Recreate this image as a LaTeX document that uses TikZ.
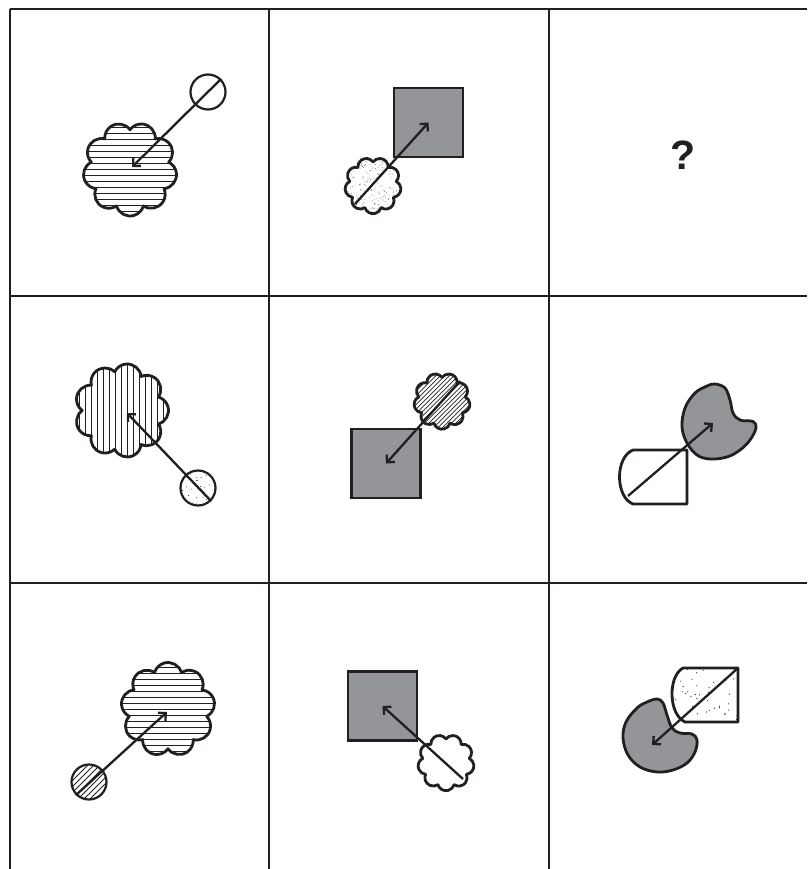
\documentclass[tikz,border=0pt]{standalone}
\usepackage{fontspec}
\setmainfont{Liberation Sans}
\usetikzlibrary{arrows.meta}
\definecolor{ink}{HTML}{231F20}
\definecolor{shade}{HTML}{939598}
% #1 path options, #2 cx, #3 cy, #4 scale, #5 rotation
\newcommand\flowerpath[5]{%
  \path[#1, shift={(#2,#3)}, yscale=-1, rotate=#5, scale=#4]
    (50:39.29)
    \foreach \k [evaluate=\k as \fsa using 70+40*\k-73.7,
                 evaluate=\k as \fea using 70+40*\k+73.7] in {0,...,8}
      { arc[start angle=\fsa, end angle=\fea, radius=14] } -- cycle;}
\begin{document}
\begin{tikzpicture}[x=1pt,y=-1pt,
  grid/.style={draw=ink, line width=2pt},
  outl/.style={draw=ink, line width=2.8pt, line join=round},
  hatch/.style={draw=ink, line width=0.8pt},
  arr/.style={draw=ink, line width=2.3pt, -{Straight Barb[length=5.5pt,width=11pt]}},
  sqr/.style={draw=ink, fill=shade, line width=2.8pt, inner sep=0pt, minimum size=69pt},
  circ/.style={circle, draw=ink, line width=2.2pt, inner sep=0pt, minimum size=35pt, fill=white},
  grey/.style={draw=ink, fill=shade, line width=2.8pt, line join=round}]
\pgfmathsetseed{42}
\useasboundingbox (0,0) rectangle (807,869);
\fill[white] (0,0) rectangle (807,869);
% grid
\draw[grid] (10,9) -- (807,9);
\draw[grid] (10,296) -- (807,296);
\draw[grid] (10,583) -- (807,583);
\draw[grid] (10,9) -- (10,869);
\draw[grid] (269,9) -- (269,869);
\draw[grid] (549,9) -- (549,869);

% ---- cell 1,1
\flowerpath{fill=white}{130}{169}{1}{0}
\begin{scope}
  \flowerpath{clip}{130}{169}{1}{0}
  \foreach \k in {-8,...,8} \draw[hatch] (75,169+\k*6) -- (185,169+\k*6);
\end{scope}
\flowerpath{outl}{130}{169}{1}{0}
\coordinate (f11) at (132,167);
\node[circ] (c11) at (208,92) {};
\draw[arr] (c11.north east) -- (f11);

% ---- cell 2,1
\flowerpath{fill=white}{121.5}{410.5}{1}{-90}
\begin{scope}
  \flowerpath{clip}{121.5}{410.5}{1}{-90}
  \foreach \k in {-8,...,8} \draw[hatch] (121.5+\k*6,355) -- (121.5+\k*6,465);
\end{scope}
\flowerpath{outl}{121.5}{410.5}{1}{-90}
\coordinate (f21) at (127,413);
\node[circ, path picture={\foreach \i in {1,...,28}
   \fill[ink] ([shift={(rand*17,rand*17)}]path picture bounding box.center) circle (0.5);}] (c21) at (198,488) {};
\draw[arr] (c21.south east) -- (f21);

% ---- cell 3,1
\flowerpath{fill=white}{168}{709.5}{1}{180}
\begin{scope}
  \flowerpath{clip}{168}{709.5}{1}{180}
  \foreach \k in {-8,...,8} \draw[hatch] (110,709.5+\k*6) -- (225,709.5+\k*6);
\end{scope}
\flowerpath{outl}{168}{709.5}{1}{180}
\coordinate (f31) at (167,712);
\node[circ, path picture={\foreach \k in {-8,...,8}
   \draw[hatch] ([shift={(\k*6-25,25)}]path picture bounding box.center) -- ++(50,-50);}] (c31) at (89,782) {};
\draw[arr] (c31.south west) -- (f31);

% ---- cell 1,2
\node[sqr] (s12) at (428.5,122.5) {};
\flowerpath{fill=white}{373}{185.5}{0.6}{0}
\begin{scope}
  \flowerpath{clip}{373}{185.5}{0.6}{0}
  \foreach \i in {1,...,220} \fill[ink] (373+rand*30,185.5+rand*30) circle (0.35);
\end{scope}
\flowerpath{outl}{373}{185.5}{0.6}{0}
\coordinate (f12s) at (355,204);
\draw[arr] (f12s) -- (s12.center);

% ---- cell 2,2
\node[sqr] (s22) at (386,463.5) {};
\flowerpath{fill=white}{442}{401}{0.6}{0}
\begin{scope}
  \flowerpath{clip}{442}{401}{0.6}{0}
  \foreach \k in {-20,...,20} \draw[hatch, line width=0.7pt] (442+\k*4.5-35,436) -- ++(70,-70);
\end{scope}
\flowerpath{outl}{442}{401}{0.6}{0}
\coordinate (f22s) at (460,381);
\draw[arr] (f22s) -- (s22.center);

% ---- cell 3,2
\node[sqr] (s32) at (382.5,706) {};
\flowerpath{fill=white}{446}{762.5}{0.6}{0}
\flowerpath{outl}{446}{762.5}{0.6}{0}
\coordinate (f32s) at (463,779);
\draw[arr] (f32s) -- (s32.center);

% ---- cell 1,3
\node[font=\bfseries\fontsize{41}{41}\selectfont, text=ink] (q) at (683,155) {?};

% ---- cell 2,3
\draw[outl] (633,450) -- (687,450) -- (687,504) -- (633,504)
  .. controls (615,497) and (615,457) .. (633,450) -- cycle;
\draw[grey] plot[smooth cycle, tension=0.6] coordinates {(715,384) (725,388) (730,400) (733,413) (740,420) (753,421.5) (756,428) (750,440) (740,450) (727,457) (710,459) (697,455) (687,443) (682,427) (685,408) (695,393) (707,386)};
\coordinate (d23) at (628,496);
\coordinate (g23) at (713,423);
\draw[arr] (d23) -- (g23);

% ---- cell 3,3
\begin{scope}
  \clip (683,668) -- (738,668) -- (738,722) -- (685,722)
    .. controls (668,714) and (668,676) .. (683,668) -- cycle;
  \foreach \i in {1,...,45} \fill[ink] (705+rand*35,695+rand*28) circle (0.6);
\end{scope}
\draw[outl] (683,668) -- (738,668) -- (738,722) -- (685,722)
  .. controls (668,714) and (668,676) .. (683,668) -- cycle;
\draw[grey] plot[smooth cycle, tension=0.6] coordinates {(657,699) (663,703) (667,715) (672,728) (680,733) (692,734) (697,740) (695,752) (687,763) (673,770) (657,772) (640,767) (628,755) (623,738) (626,722) (637,708) (647,702)};
\coordinate (d33) at (738,668);
\coordinate (g33) at (652,745);
\draw[arr] (d33) -- (g33);
\end{tikzpicture}
\end{document}
